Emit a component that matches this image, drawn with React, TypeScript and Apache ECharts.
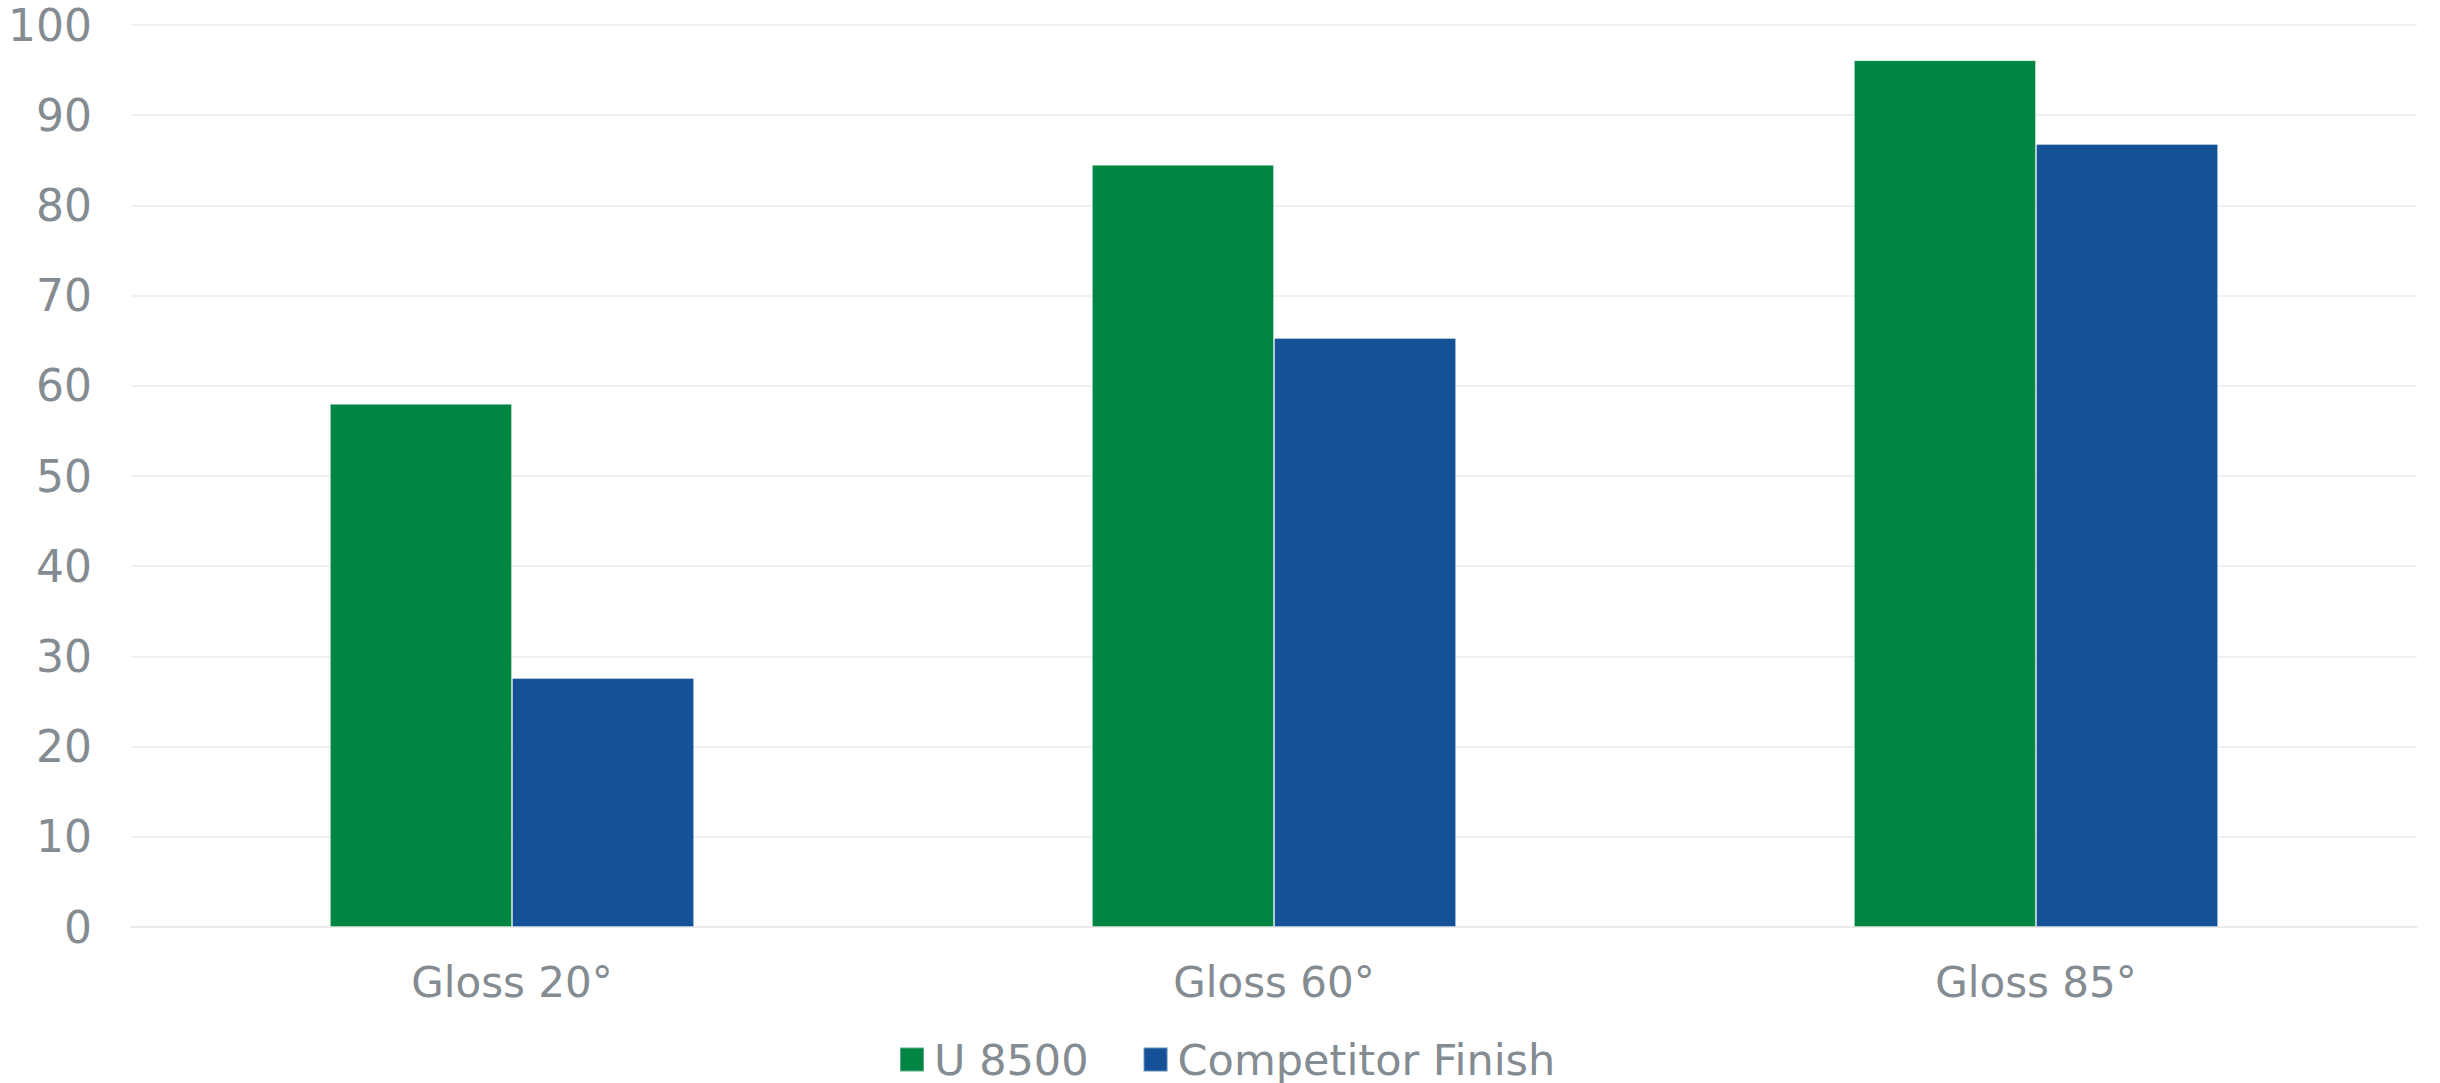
import React, { useEffect, useRef } from "react";
import * as echarts from "echarts";

const categories = ["Gloss 20°", "Gloss 60°", "Gloss 85°"];
const u8500 = [58, 84.5, 96.1];
const competitor = [27.6, 65.3, 86.8];
const seriesNames = ["U 8500", "Competitor Finish"];
const colors = ["#008542", "#145196"];

const labelColor = "#848b91";
const font = "'DejaVu Sans', Verdana, sans-serif";

export default function App() {
  const ref = useRef<HTMLDivElement>(null);
  useEffect(() => {
    document.body.style.margin = "0";
    const chart = echarts.init(ref.current!, null, { renderer: "svg" });
    chart.setOption({
      animation: false,
      backgroundColor: "#ffffff",
      textStyle: { fontFamily: font },
      grid: { left: 131, right: 23, top: 25, bottom: 156, containLabel: false },
      legend: {
        data: seriesNames,
        left: 899,
        top: 1038,
        itemWidth: 24,
        itemHeight: 24,
        itemGap: 54,
        icon: "rect",
        padding: 0,
        textStyle: {
          color: labelColor,
          fontSize: 43,
          lineHeight: 40,
          fontFamily: font,
          padding: [0, 0, 0, 5],
        },
      },
      xAxis: {
        type: "category",
        data: categories,
        axisLine: { show: true, lineStyle: { color: "#e8e8e8", width: 1.5 } },
        axisTick: { show: false },
        axisLabel: { color: labelColor, fontSize: 42, fontFamily: font, margin: 34 },
      },
      yAxis: {
        type: "value",
        min: 0,
        max: 100,
        interval: 10,
        axisLine: { show: false },
        axisTick: { show: false },
        splitLine: { lineStyle: { color: "#ebebeb", width: 1.5 } },
        axisLabel: { color: labelColor, fontSize: 44, fontFamily: font, margin: 39 },
      },
      series: [
        {
          name: seriesNames[0],
          type: "bar",
          data: u8500,
          barWidth: "23.9%",
          barGap: "0%",
          itemStyle: { color: colors[0], borderColor: "rgba(255,255,255,0.35)", borderWidth: 1 },
        },
        {
          name: seriesNames[1],
          type: "bar",
          data: competitor,
          barWidth: "23.9%",
          barGap: "0%",
          itemStyle: { color: colors[1], borderColor: "rgba(255,255,255,0.35)", borderWidth: 1 },
        },
      ],
    });
    return () => chart.dispose();
  }, []);
  return <div ref={ref} style={{ width: 2440, height: 1083 }} />;
}
